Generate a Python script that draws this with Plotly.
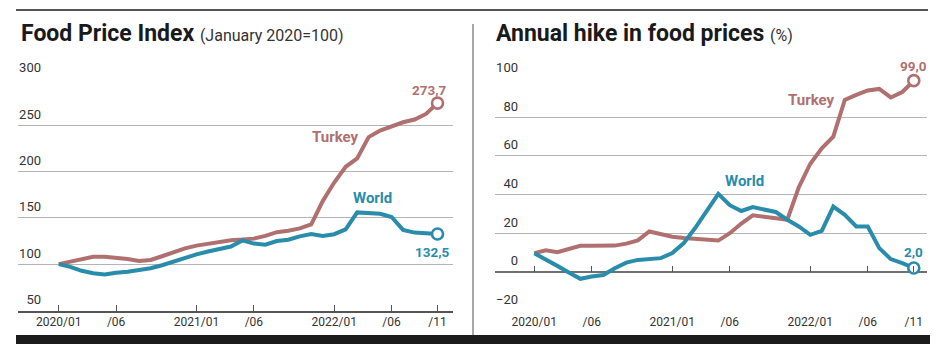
import plotly.graph_objects as go

# ---------------- data ----------------
months = [f"{y}-{m:02d}" for y in (2020, 2021, 2022) for m in range(1, 13)][:34]

world_index = [100.0, 97.0, 92.8, 90.1, 88.8, 90.8, 91.7, 93.6, 95.6, 98.8, 102.9, 105.9,
               110.5, 113.6, 116.0, 119.0, 125.6, 122.2, 121.0, 124.9, 126.3, 130.0, 132.5, 130.5,
               132.3, 137.5, 155.8, 155.0, 154.3, 150.9, 137.0, 134.0, 133.0, 132.5]
turkey_index = [100.0, 102.5, 105.0, 107.9, 107.9, 107.0, 105.5, 103.5, 104.5, 108.5, 113.0, 117.0,
                120.0, 122.0, 124.0, 125.8, 126.5, 127.5, 130.5, 134.5, 136.0, 138.5, 143.0, 168.0,
                188.0, 205.0, 214.0, 237.0, 244.0, 249.0, 253.0, 256.0, 262.0, 273.7]

world_annual = [9.6, 6.6, 3.1, -0.3, -3.6, -2.4, -1.6, 1.9, 4.8, 6.2, 6.7, 7.1,
                9.7, 14.9, 22.8, 31.5, 40.4, 34.5, 31.5, 33.5, 32.5, 31.0, 27.0, 23.5,
                19.2, 21.2, 33.8, 29.5, 23.5, 23.5, 12.3, 6.6, 4.5, 2.0]
turkey_annual = [9.7, 11.2, 10.2, 11.9, 13.5, 13.5, 13.5, 13.6, 14.6, 16.3, 20.9, 19.3,
                 18.2, 17.5, 17.0, 16.6, 16.2, 20.0, 25.0, 29.3, 28.8, 27.8, 27.0, 43.8,
                 56.0, 64.0, 70.0, 89.0, 91.6, 93.9, 94.7, 90.3, 93.1, 99.0]

tick_months = ["2020-01", "2020-06", "2021-01", "2021-06", "2022-01", "2022-06", "2022-10"]
tick_text = ["2020/01", "/06", "2021/01", "/06", "2022/01", "/06", "/11"]

left_y_ticks = [50, 100, 150, 200, 250, 300]
right_y_ticks = [-20, 0, 20, 40, 60, 80, 100]

# ---------------- styling ----------------
W, H = 937, 360
TURKEY = "#b0706f"
WORLD = "#2a8cab"
FONT = "Roboto"
GRID = "#b4b4b4"

def fx(p):
    return p / W

def fy(p):
    return 1 - p / H

idx = list(range(len(months)))
tickvals = [months.index(m) for m in tick_months]
last = idx[-1]

y_dom = [fy(310.5), fy(78.7)]
left_dom = [fx(18), fx(453)]
right_dom = [fx(495), fx(927)]
left_xr = [-3.55, 34.35]
right_xr = [-3.42, 34.15]
left_yr = [50, 300]
right_yr = [-20, 100]

fig = go.Figure()

def line(x, y, color, xa, ya):
    fig.add_trace(go.Scatter(x=x, y=y, mode="lines", line=dict(color=color, width=4),
                             xaxis=xa, yaxis=ya, hoverinfo="skip", showlegend=False))

def endpoint(x, y, color, xa, ya):
    fig.add_trace(go.Scatter(x=[x[-1]], y=[y[-1]], mode="markers", cliponaxis=False,
                             marker=dict(size=11, color="white", line=dict(color=color, width=2.6)),
                             xaxis=xa, yaxis=ya, hoverinfo="skip", showlegend=False))

line(idx, turkey_index, TURKEY, "x", "y")
line(idx, world_index, WORLD, "x", "y")
endpoint(idx, turkey_index, TURKEY, "x", "y")
endpoint(idx, world_index, WORLD, "x", "y")

line(idx, turkey_annual, TURKEY, "x2", "y2")
line(idx, world_annual, WORLD, "x3", "y2")
endpoint(idx, turkey_annual, TURKEY, "x2", "y2")
endpoint(idx, world_annual, WORLD, "x3", "y2")

tick_font = dict(family=FONT, size=12, color="#333333")
ylab_font = dict(family=FONT, size=13, color="#333333")

zero_pos = y_dom[0] + (0 - right_yr[0]) / (right_yr[1] - right_yr[0]) * (y_dom[1] - y_dom[0])

fig.update_layout(
    template="none",
    width=W, height=H, autosize=False,
    margin=dict(l=0, r=0, t=0, b=0, pad=0, autoexpand=False),
    paper_bgcolor="white", plot_bgcolor="white",
    showlegend=False,
    font=dict(family=FONT),
    xaxis=dict(domain=left_dom, range=left_xr, anchor="y", showgrid=False, zeroline=False,
               automargin=False,
               showline=True, linecolor="#555555", linewidth=1.5,
               tickmode="array", tickvals=tickvals, ticktext=tick_text,
               ticks="inside", ticklen=6, tickwidth=1.2, tickcolor="#555555",
               tickfont=tick_font, ticklabelstandoff=-1),
    yaxis=dict(domain=y_dom, range=left_yr, anchor="free", position=fx(41), automargin=False,
               tickmode="array", tickvals=left_y_ticks,
               showgrid=True, gridcolor=GRID, gridwidth=1, zeroline=False, showline=False,
               ticks="", ticklabelposition="outside top", tickfont=ylab_font,
               ticklabelshift=-2),
    xaxis2=dict(domain=right_dom, range=right_xr, anchor="y2", showgrid=False, zeroline=False,
                automargin=False,
                showline=False, tickmode="array", tickvals=tickvals, ticktext=tick_text,
                ticks="", tickfont=tick_font, ticklabelstandoff=2),
    xaxis3=dict(domain=right_dom, range=right_xr, overlaying="x2", anchor="free",
                automargin=False,
                position=zero_pos, side="bottom", showgrid=False, zeroline=False, showline=False,
                tickmode="array", tickvals=tickvals, showticklabels=False,
                ticks="inside", ticklen=6, tickwidth=1.2, tickcolor="#555555"),
    yaxis2=dict(domain=y_dom, range=right_yr, anchor="free", position=fx(518), automargin=False,
                tickmode="array", tickvals=right_y_ticks,
                showgrid=True, gridcolor=GRID, gridwidth=1,
                zeroline=True, zerolinecolor="#707070", zerolinewidth=1.5, showline=False,
                ticks="", ticklabelposition="outside top", tickfont=ylab_font,
                ticklabelshift=-2),
)

def fmt(v):
    return f"{v:.1f}".replace(".", ",")

ann = []
# titles
ann.append(dict(xref="paper", yref="paper", x=fx(19), y=fy(33), xanchor="left", yanchor="middle",
                showarrow=False,
                text="<b>Food Price Index</b> <span style='font-size:16px;color:#333'>(January 2020=100)</span>",
                font=dict(family=FONT, size=23, color="#1a1a1a")))
ann.append(dict(xref="paper", yref="paper", x=fx(494), y=fy(33), xanchor="left", yanchor="middle",
                showarrow=False,
                text="<b>Annual hike in food prices</b> <span style='font-size:16px;color:#333'>(%)</span>",
                font=dict(family=FONT, size=23, color="#1a1a1a")))
# series labels
lab_font = 15
ann.append(dict(xref="x", yref="y", x=24.1, y=237, text="<b>Turkey</b>", showarrow=False,
                font=dict(family=FONT, size=lab_font, color=TURKEY)))
ann.append(dict(xref="x", yref="y", x=27.3, y=171.5, text="<b>World</b>", showarrow=False,
                font=dict(family=FONT, size=lab_font, color=WORLD)))
ann.append(dict(xref="x2", yref="y2", x=24.1, y=89, text="<b>Turkey</b>", showarrow=False,
                font=dict(family=FONT, size=lab_font, color=TURKEY)))
ann.append(dict(xref="x2", yref="y2", x=18.25, y=46.8, text="<b>World</b>", showarrow=False,
                font=dict(family=FONT, size=lab_font, color=WORLD)))
# end values
ann.append(dict(xref="x", yref="y", x=last, y=turkey_index[-1], text=f"<b>{fmt(turkey_index[-1])}</b>",
                showarrow=False, xanchor="right", xshift=11, yshift=13,
                font=dict(family=FONT, size=13.5, color=TURKEY)))
ann.append(dict(xref="x", yref="y", x=last, y=world_index[-1], text=f"<b>{fmt(world_index[-1])}</b>",
                showarrow=False, xanchor="right", xshift=14, yshift=-18,
                font=dict(family=FONT, size=13.5, color=WORLD)))
ann.append(dict(xref="x2", yref="y2", x=last, y=turkey_annual[-1], text=f"<b>{fmt(turkey_annual[-1])}</b>",
                showarrow=False, xanchor="center", yshift=15,
                font=dict(family=FONT, size=13.5, color=TURKEY)))
ann.append(dict(xref="x2", yref="y2", x=last, y=world_annual[-1], text=f"<b>{fmt(world_annual[-1])}</b>",
                showarrow=False, xanchor="center", yshift=16,
                font=dict(family=FONT, size=13.5, color=WORLD)))
fig.update_layout(annotations=ann)

# decorative frame lines
fig.update_layout(shapes=[
    dict(type="line", xref="paper", yref="paper", x0=fx(16), x1=fx(928), y0=fy(10), y1=fy(10),
         line=dict(color="#555555", width=2)),
    dict(type="line", xref="paper", yref="paper", x0=fx(473), x1=fx(473), y0=fy(24), y1=fy(335),
         line=dict(color="#8a8a8a", width=1.5)),
    dict(type="rect", xref="paper", yref="paper", x0=fx(16), x1=fx(930), y0=fy(344), y1=fy(335),
         line=dict(width=0), fillcolor="#1c1c1c"),
])

fig.write_html("out.html", config={"displayModeBar": False},
               post_script="document.body.style.margin='0';document.body.style.overflow='hidden';")
